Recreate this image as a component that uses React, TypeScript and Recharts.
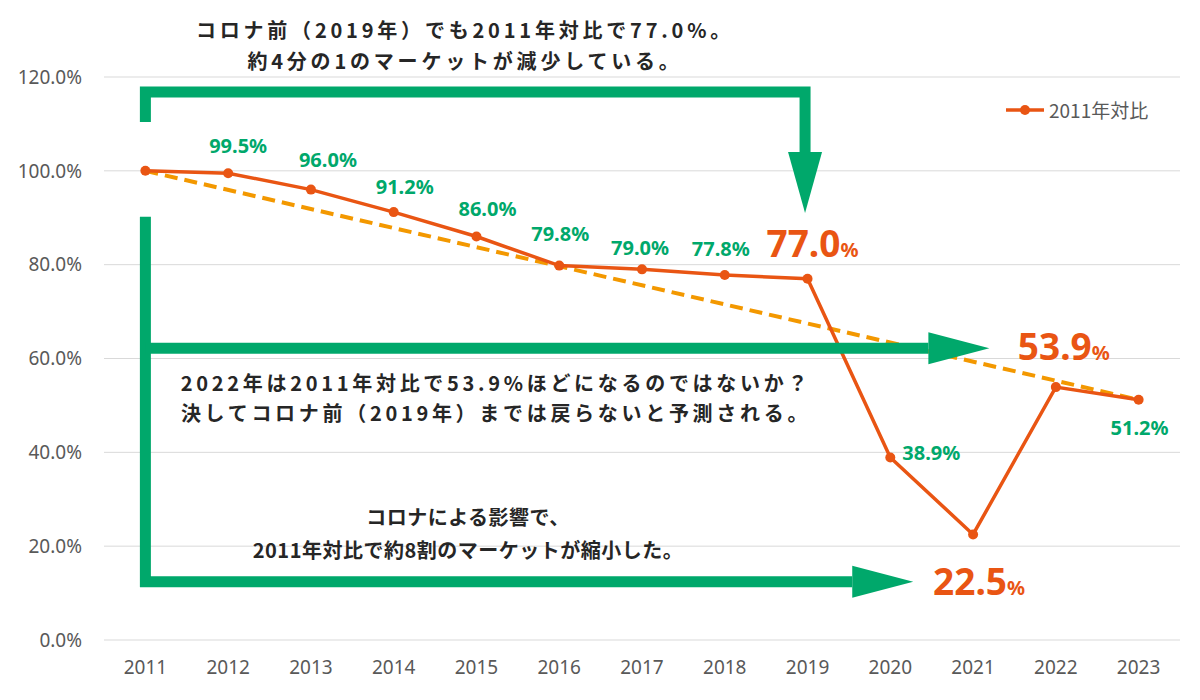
import React from 'react';
import {
  LineChart, Line, XAxis, YAxis, CartesianGrid, ReferenceLine, ReferenceDot, LabelList,
} from 'recharts';

// ---- data ----
const years = [2011, 2012, 2013, 2014, 2015, 2016, 2017, 2018, 2019, 2020, 2021, 2022, 2023];
const ratio = [100.0, 99.5, 96.0, 91.2, 86.0, 79.8, 79.0, 77.8, 77.0, 38.9, 22.5, 53.9, 51.2];
const yTicks = [0, 20, 40, 60, 80, 100, 120];
const seriesName = '2011年対比';

// trend (dashed) from first to last value
const trendFrom = { year: 2011, value: 100.0 };
const trendTo = { year: 2023, value: 51.2 };

// annotation arrows (data coordinates)
const bracketPath = [
  { year: 2011, v: 110.4 }, { year: 2011, v: 116.8 }, { year: 2018.97, v: 116.8 }, { year: 2018.97, v: 104.0 },
];
const leftPath = [
  { year: 2011, v: 90.2 }, { year: 2011, v: 12.4 }, { year: 2019.54, v: 12.4 },
];
const middlePath = [
  { year: 2011, v: 62.2 }, { year: 2020.46, v: 62.2 },
];
const arrowHeads = [
  { year: 2018.97, v: 104.0, dir: 'down' },
  { year: 2020.46, v: 62.2, dir: 'right' },
  { year: 2019.54, v: 12.4, dir: 'right' },
];

const titleLines = ['コロナ前（2019年）でも2011年対比で77.0%。', '約4分の1のマーケットが減少している。'];
const middleLines = ['2022年は2011年対比で53.9%ほどになるのではないか？', '決してコロナ前（2019年）までは戻らないと予測される。'];
const bottomLines = ['コロナによる影響で、', '2011年対比で約8割のマーケットが縮小した。'];

const data = years.map((y, i) => ({ year: y, ratio: ratio[i] }));

const ORANGE = '#E95513';
const TREND = '#F39800';
const GREEN = '#00A86B';
const GRAY = '#595959';
const TEXT = '#262626';
const FONT = '"Noto Sans", "Noto Sans CJK JP", sans-serif';
const JP = '"Noto Sans CJK JP", "Noto Sans", sans-serif';

const greenOffsets: Record<number, [number, number]> = {
  1: [10, -28], 2: [17, -30], 3: [11, -26], 4: [11, -28], 5: [1, -32],
  6: [-2, -22], 7: [-4, -26], 9: [41, -5], 12: [1, 28],
};
const bigOffsets: Record<number, [number, number]> = {
  8: [-41, -22], 10: [-40, 61], 11: [-38, -27],
};

const renderLabel = (props: any) => {
  const { x, y, value, index } = props;
  if (bigOffsets[index]) {
    const [dx, dy] = bigOffsets[index];
    return (
      <text x={x + dx} y={y + dy} fill={ORANGE} fontFamily={FONT} fontWeight={700} fontSize={37}>
        {Number(value).toFixed(1)}
        <tspan fontSize={20}>%</tspan>
      </text>
    );
  }
  if (greenOffsets[index]) {
    const [dx, dy] = greenOffsets[index];
    return (
      <text x={x + dx} y={y + dy} fill={GREEN} fontFamily={FONT} fontWeight={700} fontSize={20}
        textAnchor="middle" dominantBaseline="central">
        {Number(value).toFixed(1)}%
      </text>
    );
  }
  return null;
};

const ArrowHead = (props: any) => {
  const { cx, cy, dir } = props;
  if (cx == null || cy == null) return null;
  if (dir === 'down') {
    const pts = `${cx - 17},${cy} ${cx + 17},${cy} ${cx},${cy + 61}`;
    return <polygon points={pts} fill={GREEN} />;
  }
  const pts = `${cx},${cy - 16} ${cx},${cy + 16} ${cx + 61},${cy}`;
  return <polygon points={pts} fill={GREEN} />;
};

const overlay = (lines: string[], cx: number, top: number, lh: number, size: number, ls: number) => (
  <div style={{
    position: 'absolute', left: cx - 500, width: 1000, top, textAlign: 'center',
    fontFamily: JP, fontWeight: 700, fontSize: size, lineHeight: `${lh}px`, letterSpacing: ls,
    color: TEXT, whiteSpace: 'nowrap', pointerEvents: 'none',
  }}>
    {lines.map((l, i) => <div key={i}>{l}</div>)}
  </div>
);

export default function App() {
  return (
    <div style={{ position: 'absolute', left: 0, top: 0, width: 1200, height: 700, background: '#fff' }}>
      <LineChart width={1200} height={700} data={data} margin={{ top: 77, right: 20, bottom: 30, left: 14 }}>
        <CartesianGrid vertical={false} stroke="#D9D9D9" strokeWidth={1} />
        <XAxis
          dataKey="year" type="number" domain={[2010.5, 2023.5]} ticks={years}
          axisLine={false} tickLine={false} tickSize={0} tickMargin={21} height={30}
          tick={{ fill: GRAY, fontSize: 19, fontFamily: FONT }} allowDataOverflow
        />
        <YAxis
          domain={[0, 120]} ticks={yTicks} width={90} axisLine={false} tickLine={false}
          tickSize={0} tickMargin={22}
          tickFormatter={(v: number) => `${v.toFixed(1)}%`}
          tick={{ fill: GRAY, fontSize: 19, fontFamily: FONT }}
        />
        <ReferenceLine
          segment={[{ x: trendFrom.year, y: trendFrom.value }, { x: trendTo.year, y: trendTo.value }]}
          stroke={TREND} strokeWidth={4} strokeDasharray="13 7"
        />
        <Line
          dataKey="ratio" name={seriesName} stroke={ORANGE} strokeWidth={3.5}
          dot={{ r: 5, fill: ORANGE, stroke: ORANGE, strokeWidth: 0 }} isAnimationActive={false}
        >
          <LabelList dataKey="ratio" content={renderLabel} />
        </Line>
        <Line data={bracketPath} dataKey="v" stroke={GREEN} strokeWidth={11} dot={false}
          strokeLinejoin="miter" legendType="none" isAnimationActive={false} />
        <Line data={leftPath} dataKey="v" stroke={GREEN} strokeWidth={11} dot={false}
          strokeLinejoin="miter" legendType="none" isAnimationActive={false} />
        <Line data={middlePath} dataKey="v" stroke={GREEN} strokeWidth={11} dot={false}
          strokeLinejoin="miter" legendType="none" isAnimationActive={false} />
        {arrowHeads.map((a, i) => (
          <ReferenceDot key={i} x={a.year} y={a.v} r={1}
            shape={(p: any) => <ArrowHead {...p} dir={a.dir} />} />
        ))}
      </LineChart>
      <div style={{
        position: 'absolute', left: 1006, top: 96, display: 'flex', alignItems: 'center',
        fontFamily: JP, fontSize: 19, color: GRAY, whiteSpace: 'nowrap',
      }}>
        <svg width={40} height={14} style={{ marginRight: 3 }}>
          <line x1={0} y1={7} x2={38} y2={7} stroke={ORANGE} strokeWidth={3.5} />
          <circle cx={19} cy={7} r={5} fill={ORANGE} />
        </svg>
        <span>{seriesName}</span>
      </div>
      {overlay(titleLines, 465, 14, 31, 20, 3.8)}
      {overlay(middleLines, 496, 368, 30, 20, 3.7)}
      {overlay(bottomLines, 468, 500, 33, 20, 0.5)}
    </div>
  );
}
